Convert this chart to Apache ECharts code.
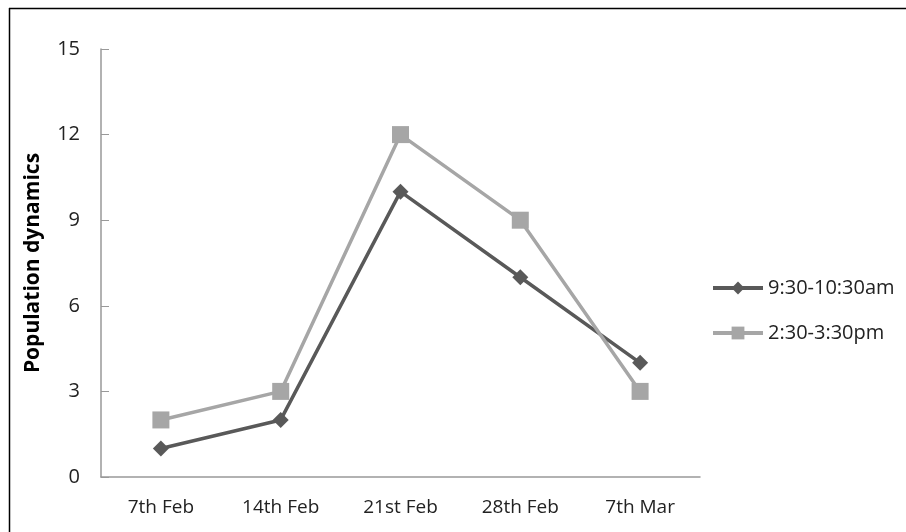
<!DOCTYPE html>
<html><head><meta charset="utf-8">
<script src="https://cdn.jsdelivr.net/npm/echarts@6/dist/echarts.min.js"></script>
<style>html,body{margin:0;padding:0;background:#fff}#c{width:906px;height:532px}</style>
</head><body><div id="c"></div>
<script>
const categories = ['7th Feb', '14th Feb', '21st Feb', '28th Feb', '7th Mar'];
const morning = [1, 2, 10, 7, 4];
const afternoon = [2, 3, 12, 9, 3];
const seriesNames = ['9:30-10:30am', '2:30-3:30pm'];
const yTitle = 'Population dynamics';

const font = 'Open Sans';
const chart = echarts.init(document.getElementById('c'), null, {renderer: 'canvas'});
chart.setOption({
  animation: false,
  backgroundColor: '#fff',
  textStyle: {fontFamily: font},
  graphic: [
    {type: 'line', shape: {x1: 9, y1: 8.5, x2: 906, y2: 8.5}, style: {stroke: '#000', lineWidth: 1.5}},
    {type: 'line', shape: {x1: 9.5, y1: 8, x2: 9.5, y2: 532}, style: {stroke: '#000', lineWidth: 1.5}}
  ],
  grid: {left: 101, right: 206, top: 49, bottom: 55},
  legend: {
    orient: 'vertical', left: 711, top: 278, itemGap: 25,
    itemWidth: 50, itemHeight: 16, padding: 0,
    lineStyle: {width: 4},
    textStyle: {fontSize: 20, color: '#222', fontFamily: font},
    data: seriesNames
  },
  xAxis: {
    type: 'category', data: categories, boundaryGap: true,
    axisLine: {lineStyle: {color: '#999', width: 1.5}},
    axisTick: {show: false},
    axisLabel: {fontSize: 19, color: '#222', margin: 21, fontFamily: font}
  },
  yAxis: {
    type: 'value', min: 0, max: 15, interval: 3,
    name: yTitle, nameLocation: 'middle', nameGap: 57,
    nameTextStyle: {fontSize: 21, fontWeight: 'bold', color: '#000', fontFamily: font},
    axisLine: {show: true, lineStyle: {color: '#999', width: 1.5}},
    axisTick: {show: true, inside: true, length: 8, lineStyle: {color: '#999'}},
    splitLine: {show: false},
    axisLabel: {fontSize: 20, color: '#222', margin: 21, fontFamily: font}
  },
  series: [
    {name: seriesNames[0], type: 'line', data: morning,
     symbol: 'diamond', symbolSize: 16,
     lineStyle: {color: '#595959', width: 3.5},
     itemStyle: {color: '#595959'}},
    {name: seriesNames[1], type: 'line', data: afternoon,
     symbol: 'rect', symbolSize: 17,
     lineStyle: {color: '#a6a6a6', width: 3.5},
     itemStyle: {color: '#a6a6a6'}}
  ]
});
</script></body></html>
